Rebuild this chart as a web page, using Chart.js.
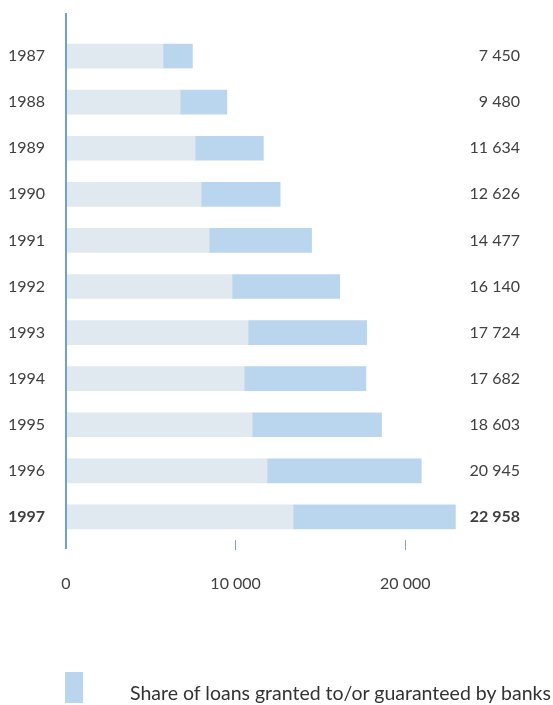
<!DOCTYPE html>
<html>
<head>
<meta charset="utf-8">
<script src="https://cdn.jsdelivr.net/npm/chart.js@4.4.0/dist/chart.umd.min.js"></script>
<style>
  html, body { margin: 0; padding: 0; background: #fff; }
  #wrap { position: relative; width: 553px; height: 705px; overflow: hidden; }
  #legend { position: absolute; left: 65px; top: 672px; font-family: Lato, "Open Sans", sans-serif; font-size: 19.5px; color: #333; }
  #legend .box { position: absolute; left: 0; top: 0; width: 18px; height: 31px; }
  #legend .txt { position: absolute; left: 65px; top: 9px; white-space: nowrap; }
</style>
</head>
<body>
<div id="wrap">
  <canvas id="loans" width="553" height="705"></canvas>
  <div id="legend"></div>
</div>
<script>
// loans, by year: total and the part granted to / guaranteed by banks
var years = ['1987','1988','1989','1990','1991','1992','1993','1994','1995','1996','1997'];
var totals = [7450, 9480, 11634, 12626, 14477, 16140, 17724, 17682, 18603, 20945, 22958];
var bankShare = [1730, 2750, 4020, 4660, 6040, 6350, 6990, 7180, 7630, 9090, 9570];
var xTicks = [0, 10000, 20000];

var otherShare = totals.map(function(t, i){ return t - bankShare[i]; });

function fmt(n){ return String(n).replace(/\B(?=(\d{3})+(?!\d))/g, ' '); }

var FONT = 'Lato, "Open Sans", sans-serif';
var txtColor = '#404040';
var lastIdx = years.length - 1;

// axis line that runs a bit past the plot, like the print
var axisLine = {
  id: 'axisLine',
  afterDatasetsDraw: function(chart){
    var c = chart.ctx;
    var x = chart.scales.x.getPixelForValue(0);
    c.save();
    c.strokeStyle = '#6aa3cf';
    c.lineWidth = 2;
    c.beginPath();
    c.moveTo(x, 13);
    c.lineTo(x, 549);
    c.stroke();
    c.restore();
  }
};

var ctx = document.getElementById('loans').getContext('2d');
var chart = new Chart(ctx, {
  type: 'bar',
  data: {
    labels: years,
    datasets: [{
      label: 'Other loans',
      data: otherShare,
      backgroundColor: '#e0e8f0',
      barThickness: 24,
      stack: 's'
    }, {
      label: 'Share of loans granted to/or guaranteed by banks',
      data: bankShare,
      backgroundColor: '#bad6ee',
      barThickness: 24,
      stack: 's'
    }]
  },
  options: {
    indexAxis: 'y',
    responsive: false,
    animation: false,
    layout: { padding: { top: 33, bottom: 105, left: 0, right: 33 } },
    plugins: { legend: { display: false }, tooltip: { enabled: false } },
    scales: {
      x: {
        stacked: true,
        min: 0,
        max: 23700,
        border: { display: false },
        grid: {
          drawOnChartArea: false,
          drawTicks: true,
          tickLength: 10,
          color: function(c){ return c.tick && c.tick.value === 0 ? 'rgba(0,0,0,0)' : '#7fa8c8'; }
        },
        afterBuildTicks: function(scale){
          scale.ticks = xTicks.map(function(v){ return { value: v }; });
        },
        afterFit: function(scale){ scale.height = 60; },
        ticks: {
          padding: 24,
          color: txtColor,
          font: { family: FONT, size: 16 },
          callback: function(v){ return fmt(v); }
        }
      },
      y: {
        stacked: true,
        border: { display: false },
        grid: { display: false, drawTicks: false },
        afterFit: function(scale){ scale.width = 66; },
        ticks: {
          padding: 21,
          color: txtColor,
          font: function(c){ return { family: FONT, size: 16, weight: c.index === lastIdx ? 'bold' : 'normal' }; }
        }
      },
      y2: {
        type: 'category',
        labels: totals.map(fmt),
        position: 'right',
        offset: true,
        border: { display: false },
        grid: { display: false, drawTicks: false },
        afterFit: function(scale){ scale.width = 52; },
        ticks: {
          padding: 2,
          crossAlign: 'far',
          color: txtColor,
          font: function(c){ return { family: FONT, size: 16, weight: c.index === lastIdx ? 'bold' : 'normal' }; }
        }
      }
    }
  },
  plugins: [axisLine]
});

// legend: only the bank share is keyed in the original
var ds = chart.data.datasets[1];
document.getElementById('legend').innerHTML =
  '<div class="box" style="background:' + ds.backgroundColor + '"></div>' +
  '<div class="txt">' + ds.label + '</div>';
</script>
</body>
</html>
